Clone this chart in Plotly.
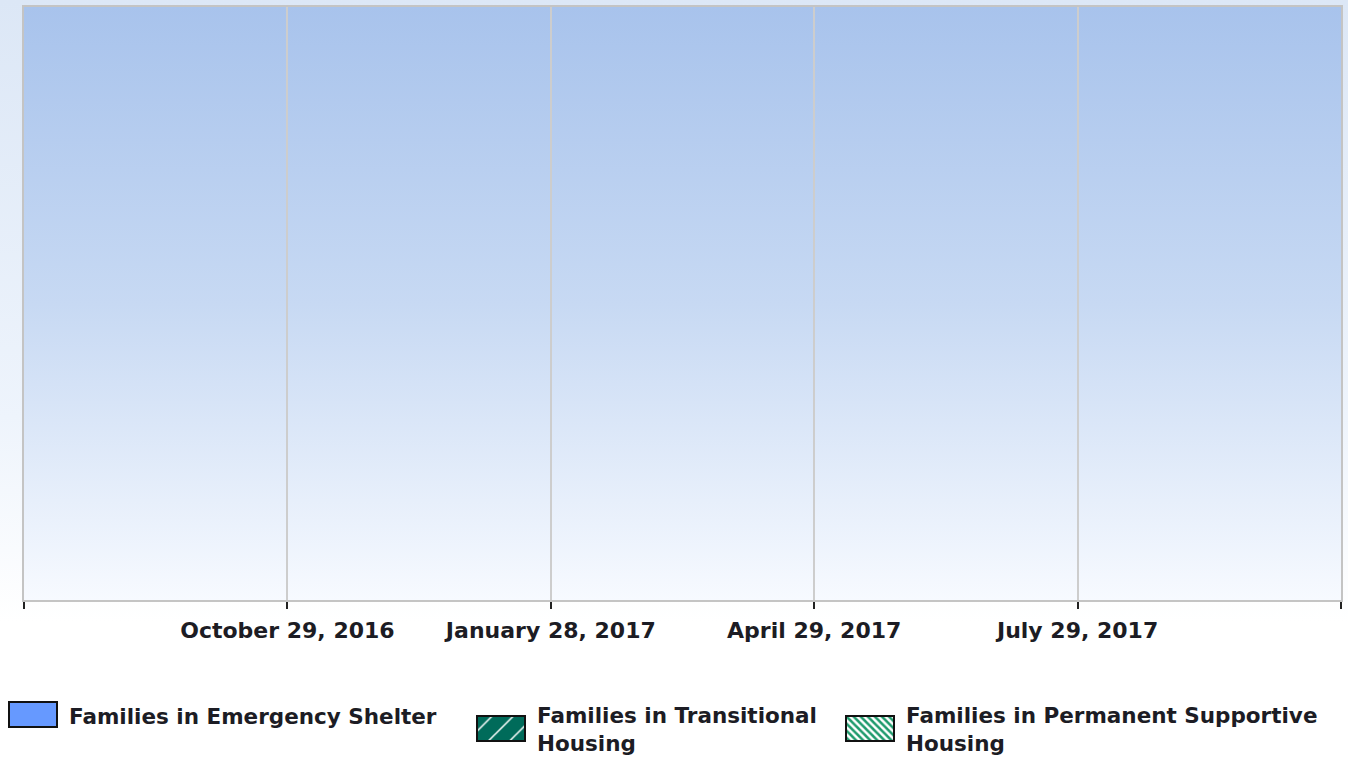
import base64
import plotly.graph_objects as go

W, H = 1348, 759

# data: the chart has no visible bars, every series is empty (zero)
dates = ["2016-10-29", "2017-01-28", "2017-04-29", "2017-07-29"]
series_names = ["Families in Emergency Shelter",
                "Families in Transitional<br>Housing",
                "Families in Permanent Supportive<br>Housing"]
emergency_shelter = [0, 0, 0, 0]
transitional_housing = [0, 0, 0, 0]
permanent_supportive = [0, 0, 0, 0]

tick_vals = ["2016-07-30", "2016-10-29", "2017-01-28", "2017-04-29", "2017-07-29", "2017-10-28"]
tick_text = ["", "October 29, 2016", "January 28, 2017", "April 29, 2017", "July 29, 2017", ""]
x_range = ["2016-07-30", "2017-10-28"]

FONT = "DejaVu Sans"
TXT = "#1c1c24"


def gradient_uri(stops):
    st = "".join(f'<stop offset="{o}" stop-color="{c}"/>' for o, c in stops)
    svg = ('<svg xmlns="http://www.w3.org/2000/svg" width="10" height="10" viewBox="0 0 10 10" '
           'preserveAspectRatio="none"><defs><linearGradient id="g" x1="0" y1="0" x2="0" y2="1">'
           f'{st}</linearGradient></defs><rect width="10" height="10" fill="url(#g)"/></svg>')
    return "data:image/svg+xml;base64," + base64.b64encode(svg.encode()).decode()


def fx(px):
    return px / W


def fy(py):
    return 1 - py / H


# plot area in figure pixels
PL, PR, PT, PB = 24, 1341, 7, 600

fig = go.Figure()

main_styles = [
    dict(color="#6699ff"),
    dict(color="#006b5a", pattern=dict(shape="/", fgcolor="white", bgcolor="#006b5a")),
    dict(color="#1e9a6c", pattern=dict(shape="\\", fgcolor="#1e9a6c", bgcolor="white")),
]
for name, vals, st in zip(series_names, [emergency_shelter, transitional_housing, permanent_supportive], main_styles):
    fig.add_trace(go.Bar(x=dates, y=vals, name=name, marker=dict(line=dict(width=0), **st),
                         showlegend=False, xaxis="x", yaxis="y"))

# legend swatches, each a one-bar mini axis with the series fill
swatches = [
    dict(box=(9, 57, 702, 727), marker=dict(color="#6699ff")),
    dict(box=(477, 525, 716, 741), marker=dict(color="#006b5a", pattern=dict(
        shape="/", fgcolor="white", bgcolor="#006b5a", size=15, solidity=0.1, fillmode="replace"))),
    dict(box=(846, 894, 716, 741), marker=dict(color="#1e9a6c", pattern=dict(
        shape="\\", fgcolor="#1e9a6c", bgcolor="white", size=5, solidity=0.5, fillmode="replace"))),
]
axes = {}
pad = 3
for i, sw in enumerate(swatches, start=2):
    x0, x1, y0, y1 = sw["box"]
    w, h = x1 - x0, y1 - y0
    fig.add_trace(go.Bar(x=[0], y=[1], width=[1], showlegend=False, hoverinfo="skip",
                         marker=dict(line=dict(color="#111111", width=2), **sw["marker"]),
                         xaxis=f"x{i}", yaxis=f"y{i}"))
    axes[f"xaxis{i}"] = dict(domain=[fx(x0 - pad), fx(x1 + pad)], range=[-0.5 - pad / w, 0.5 + pad / w],
                             visible=False, fixedrange=True, anchor=f"y{i}")
    axes[f"yaxis{i}"] = dict(domain=[fy(y1 + pad), fy(y0 - pad)], range=[-pad / h, 1 + pad / h],
                             visible=False, fixedrange=True, anchor=f"x{i}")

# legend labels
label_pos = [(67, 716), (535, 729), (904, 729)]
annotations = []
for name, (lx, ly) in zip(series_names, label_pos):
    annotations.append(dict(x=fx(lx), y=fy(ly), xref="paper", yref="paper", text=name, showarrow=False,
                            xanchor="left", yanchor="middle", align="left",
                            font=dict(family=FONT, size=21.5, color=TXT, weight="bold")))

images = [
    dict(source=gradient_uri([(0, "#dce7f6"), (0.55, "#eef4fc"), (0.82, "#ffffff"), (1, "#ffffff")]),
         xref="paper", yref="paper", x=0, y=1, sizex=1, sizey=1, sizing="stretch", layer="below"),
    dict(source=gradient_uri([(0, "#a8c3ec"), (0.5, "#c7d9f3"), (1, "#f7faff")]),
         xref="paper", yref="paper", x=fx(PL), y=fy(PT), sizex=fx(PR) - fx(PL), sizey=fy(PT) - fy(PB),
         sizing="stretch", layer="below"),
]

fig.update_layout(
    template="none",
    width=W, height=H,
    margin=dict(l=0, r=0, t=0, b=0),
    paper_bgcolor="white",
    plot_bgcolor="rgba(0,0,0,0)",
    barmode="stack",
    showlegend=False,
    images=images,
    annotations=annotations,
    xaxis=dict(
        type="date", domain=[fx(PL), fx(PR)], range=x_range,
        tickvals=tick_vals, ticktext=tick_text, tickangle=0,
        ticks="outside", ticklen=7, tickwidth=2, tickcolor="#222222",
        showgrid=True, gridcolor="#cdcdcd", gridwidth=1.5,
        showline=True, linecolor="#c4c4c4", linewidth=1.5, mirror=True,
        zeroline=False, automargin=False, fixedrange=True,
        ticklabelstandoff=3,
        tickfont=dict(family=FONT, size=22, color=TXT, weight="bold"),
        anchor="y",
    ),
    yaxis=dict(
        domain=[fy(PB), fy(PT)], range=[0, 1],
        showticklabels=False, ticks="", showgrid=False, zeroline=False,
        showline=True, linecolor="#c4c4c4", linewidth=1.5, mirror=True,
        automargin=False, fixedrange=True, anchor="x",
    ),
    **axes,
)

# drop the default page margin so the figure sits at the window's corner
fig.write_html("out.html", config={"displayModeBar": False},
               post_script="document.body.style.margin='0';document.body.style.overflow='hidden';")
